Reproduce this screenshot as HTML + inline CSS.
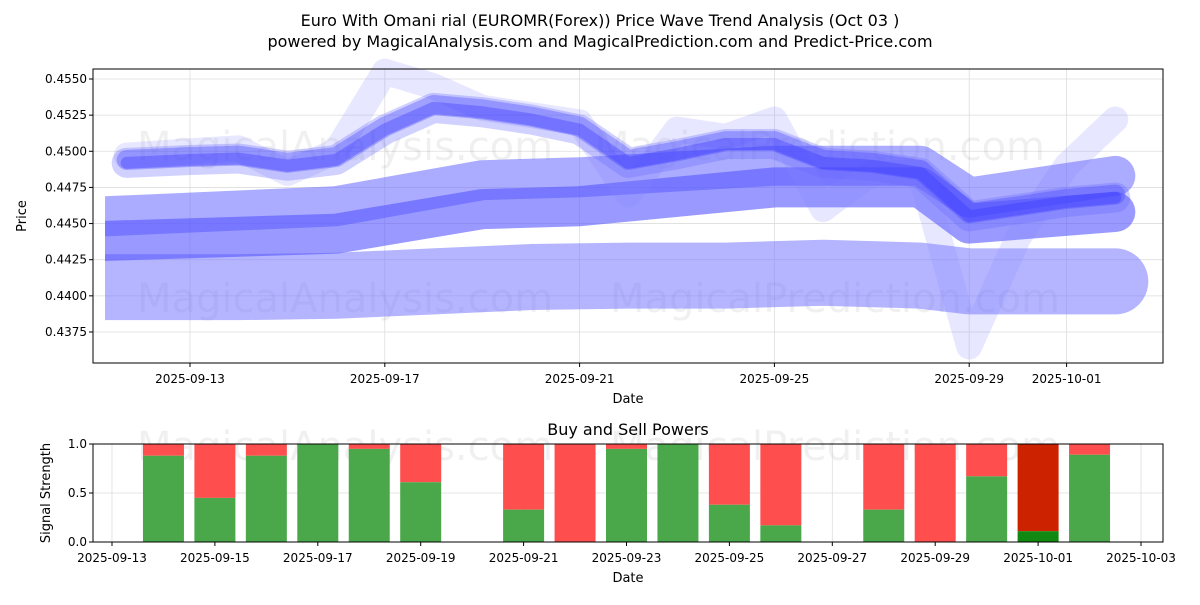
<!DOCTYPE html>
<html><head><meta charset="utf-8"><style>
body{margin:0;background:#fff;font-family:"Liberation Sans","DejaVu Sans",sans-serif}
svg text{font-family:"DejaVu Sans","Liberation Sans",sans-serif}
</style></head><body>
<svg id="c" width="1200" height="600" viewBox="0 0 1200 600" xmlns="http://www.w3.org/2000/svg">
<defs><clipPath id="startclip"><rect x="105" y="60" width="1080" height="320"/></clipPath></defs>
<text x="600" y="26" text-anchor="middle" font-size="16">Euro With Omani rial (EUROMR(Forex)) Price Wave Trend Analysis (Oct 03 )</text>
<text x="600" y="47" text-anchor="middle" font-size="16">powered by MagicalAnalysis.com and MagicalPrediction.com and Predict-Price.com</text>
<g id="topg"></g><g id="botg"></g>
</svg>
<script>
// top chart data
const priceTicks=[0.4375,0.4400,0.4425,0.4450,0.4475,0.4500,0.4525,0.4550];
const dateTicks=['2025-09-13','2025-09-17','2025-09-21','2025-09-25','2025-09-29','2025-10-01'];
const dateTickDays=[0,4,8,12,16,18];
const lowerDays=[-1.75,1,3,5,7,9,11,13,15,16,18,19];
const lowerVals=[0.4406,0.4406,0.4407,0.4410,0.4413,0.4414,0.4414,0.4416,0.4414,0.4410,0.4410,0.4410];
const bandDays=[-1.75,3,6,8,12,15,16,19];
const bandAVals=[0.4455,0.4462,0.4480,0.4482,0.4490,0.4490,0.4468,0.4483];
const bandBVals=[0.4438,0.4443,0.4460,0.4462,0.4475,0.4475,0.4450,0.4458];
const waveDays=[-1.3,0,1,2,3,4,5,6,7,8,9,10,11,12,13,14,15,16,17,18,19];
const waveVals=[0.4492,0.4494,0.4495,0.4490,0.4494,0.4515,0.4530,0.4527,0.4522,0.4515,0.4492,0.4498,0.4505,0.4505,0.4492,0.4490,0.4485,0.4455,0.4460,0.4465,0.4468];
const wave2Vals=[0.4497,0.4500,0.4502,0.4485,0.4500,0.4555,0.4545,0.4530,0.4525,0.4520,0.4470,0.4515,0.4510,0.4522,0.4460,0.4485,0.4485,0.4365,0.4440,0.4490,0.4522];
// bottom chart data
const barDays=[1,2,3,4,5,6,8,9,10,11,12,13,15,16,17,18,19];
const buyVals=[0.88,0.45,0.88,1.0,0.95,0.61,0.33,0.0,0.95,1.0,0.38,0.17,0.33,0.0,0.67,0.11,0.89];
const barDark=[0,0,0,0,0,0,0,0,0,0,0,0,0,0,0,1,0];
const botTicks=['2025-09-13','2025-09-15','2025-09-17','2025-09-19','2025-09-21','2025-09-23','2025-09-25','2025-09-27','2025-09-29','2025-10-01','2025-10-03'];
const strengthTicks=[0.0,0.5,1.0];

const NS='http://www.w3.org/2000/svg';
function mk(p,t,a){const e=document.createElementNS(NS,t);for(const k in a)e.setAttribute(k,a[k]);p.appendChild(e);return e;}
const topG=document.getElementById('topg'),botG=document.getElementById('botg');
const L=93,R=1163,T1=69,B1=363,T2=444,B2=542;
const xT=d=>190+d*48.7;
const yT=v=>79+(0.4550-v)/0.0025*36.14;
const xB=d=>112+d*51.45;
const yB=v=>B2-v*(B2-T2);

priceTicks.forEach(v=>{const l=mk(topG,'line',{x1:L,x2:R,y1:yT(v),y2:yT(v),stroke:'#ddd','stroke-width':0.8});

const t=mk(topG,'text',{x:L-6,y:yT(v)+4,'text-anchor':'end','font-size':12});t.textContent=v.toFixed(4);

mk(topG,'line',{x1:L-4,x2:L,y1:yT(v),y2:yT(v),stroke:'#000'});});
dateTickDays.forEach((d,i)=>{const l=mk(topG,'line',{x1:xT(d),x2:xT(d),y1:T1,y2:B1,stroke:'#ddd','stroke-width':0.8});

mk(topG,'line',{x1:xT(d),x2:xT(d),y1:B1,y2:B1+4,stroke:'#000'});
const t=mk(topG,'text',{x:xT(d),y:B1+20,'text-anchor':'middle','font-size':12});t.textContent=dateTicks[i];
});
[[345,160],[820,160],[345,312],[835,312],[345,460],[835,460]].forEach((p,i)=>{const t=mk(topG,'text',{x:p[0],y:p[1],'text-anchor':'middle','font-size':40,fill:'#000','fill-opacity':0.06});
t.textContent=(i%2?'MagicalPrediction.com':'MagicalAnalysis.com');});

function band(days,vals,w,color,op,name,clip){
 const pts=days.map((d,i)=>xT(d)+','+yT(vals[i])).join(' ');
 const p=mk(topG,'polyline',{points:pts,fill:'none',stroke:color,'stroke-opacity':op,'stroke-width':w,'stroke-linejoin':'round','stroke-linecap':'round'});
 if(clip)p.setAttribute('clip-path','url(#startclip)');
 
}
band(lowerDays,lowerVals,66,'#7777ff',0.55,'lower-band',true);
band(bandDays,bandAVals,40,'#6666ff',0.55,'middle-band-upper',true);
band(bandDays,bandBVals,40,'#5555ff',0.6,'middle-band-lower',true);
band(waveDays,wave2Vals,26,'#8888ff',0.2,'wave-light');
band(waveDays,waveVals,30,'#6666ff',0.3,'wave-outer');
band(waveDays,waveVals.map(v=>v+0.0002),20,'#4444ff',0.35,'wave-mid');
band(waveDays,waveVals,12,'#3333ff',0.35,'wave-core');
mk(topG,'rect',{x:L,y:T1,width:R-L,height:B1-T1,fill:'none',stroke:'#000','stroke-width':1});
let t=mk(topG,'text',{x:628,y:403,'text-anchor':'middle','font-size':13});t.textContent='Date';
t=mk(topG,'text',{x:26,y:216,'text-anchor':'middle','font-size':13,transform:'rotate(-90 26 216)'});t.textContent='Price';

strengthTicks.forEach(v=>{const l=mk(botG,'line',{x1:L,x2:R,y1:yB(v),y2:yB(v),stroke:'#ddd','stroke-width':0.8});

mk(botG,'line',{x1:L-4,x2:L,y1:yB(v),y2:yB(v),stroke:'#000'});
const t=mk(botG,'text',{x:L-6,y:yB(v)+4,'text-anchor':'end','font-size':12});t.textContent=v.toFixed(1);
});
botTicks.forEach((s,i)=>{const x=xB(i*2);const l=mk(botG,'line',{x1:x,x2:x,y1:T2,y2:B2,stroke:'#ddd','stroke-width':0.8});

mk(botG,'line',{x1:x,x2:x,y1:B2,y2:B2+4,stroke:'#000'});
const t=mk(botG,'text',{x:x,y:B2+20,'text-anchor':'middle','font-size':12});t.textContent=s;
});
barDays.forEach((d,i)=>{const x=xB(d)-20.5,w=41,b=buyVals[i];
 const r=mk(botG,'rect',{x:x,y:T2,width:w,height:yB(b)-T2,fill:barDark[i]?'#cc2200':'#ff4444','fill-opacity':barDark[i]?1:0.95});
 
 const gr=mk(botG,'rect',{x:x,y:yB(b),width:w,height:B2-yB(b),fill:barDark[i]?'#118811':'#4aa84a'});
 });
mk(botG,'rect',{x:L,y:T2,width:R-L,height:B2-T2,fill:'none',stroke:'#000','stroke-width':1});
t=mk(botG,'text',{x:628,y:435,'text-anchor':'middle','font-size':16});t.textContent='Buy and Sell Powers';
t=mk(botG,'text',{x:628,y:582,'text-anchor':'middle','font-size':13});t.textContent='Date';
t=mk(botG,'text',{x:50,y:493,'text-anchor':'middle','font-size':13,transform:'rotate(-90 50 493)'});t.textContent='Signal Strength';
</script>
</body></html>
